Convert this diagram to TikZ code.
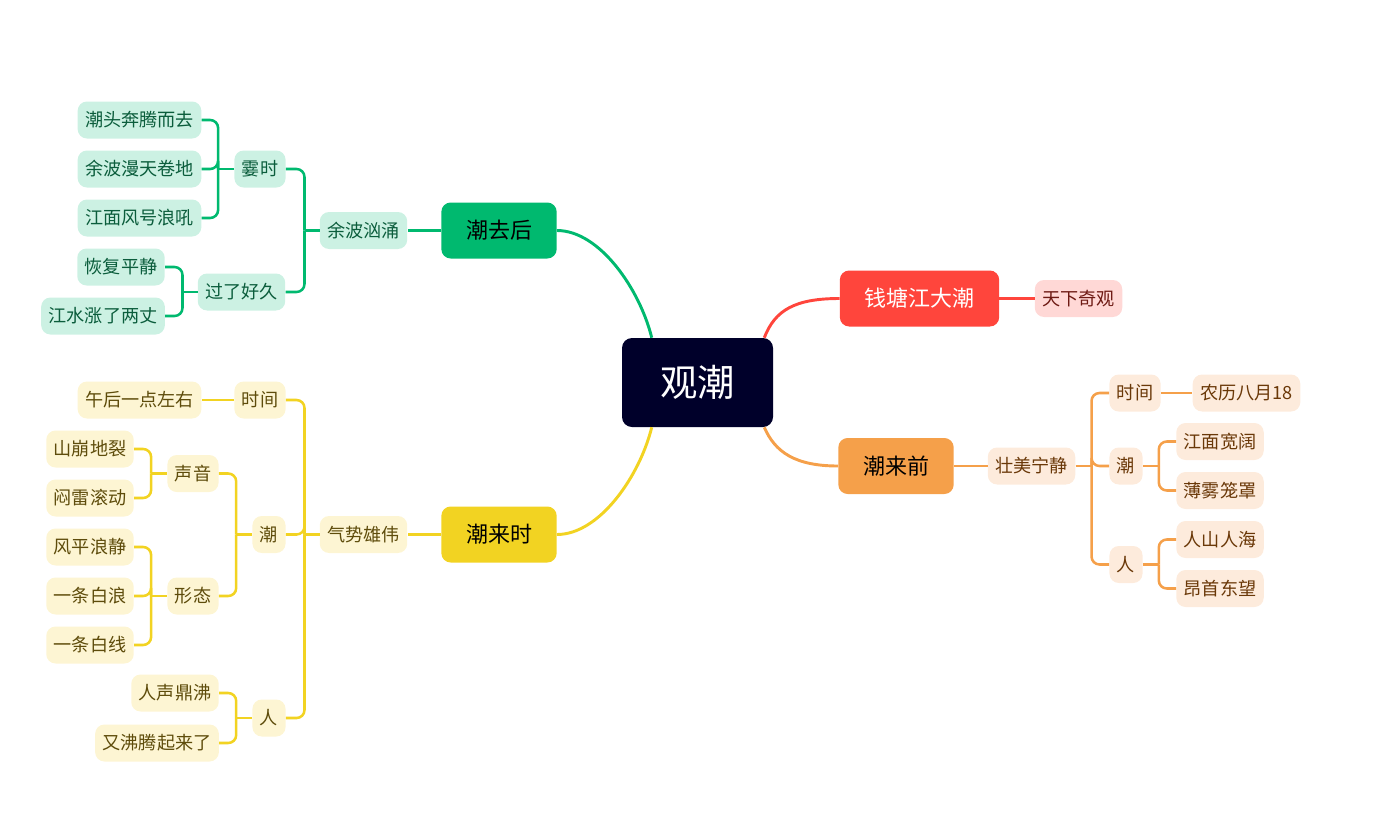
\documentclass[tikz,border=0pt]{standalone}
\usepackage{fontspec}
\setmainfont{Noto Sans CJK SC}
\usetikzlibrary{calc}
\definecolor{rootc}{HTML}{00002A}
\definecolor{gc}{HTML}{00B96F}
\definecolor{gl}{HTML}{CCF1E3}
\definecolor{gt}{HTML}{0B5D3C}
\definecolor{yc}{HTML}{F2D322}
\definecolor{yl}{HTML}{FDF5D3}
\definecolor{yt}{HTML}{5E4C0B}
\definecolor{rc}{HTML}{FF453C}
\definecolor{rl}{HTML}{FFD8D6}
\definecolor{rt}{HTML}{6E1A14}
\definecolor{oc}{HTML}{F5A04A}
\definecolor{ol}{HTML}{FDEBDC}
\definecolor{ot}{HTML}{6A3808}
\begin{document}
\begin{tikzpicture}[x=0.75pt,y=-0.75pt,
  sub/.style={rounded corners=7pt, minimum height=27.75pt, inner xsep=5.6pt, inner ysep=0pt, font=\fontsize{13.6}{14}\selectfont},
  gsub/.style={sub, fill=gl, text=gt},
  ysub/.style={sub, fill=yl, text=yt},
  rsub/.style={sub, fill=rl, text=rt},
  osub/.style={sub, fill=ol, text=ot},
  mainbox/.style={rounded corners=7pt, minimum height=42pt, inner xsep=18.5pt, inner ysep=0pt, font=\fontsize{16.5}{18}\selectfont},
  rootbox/.style={rounded corners=7.5pt, fill=rootc, text=white, minimum width=113.25pt, minimum height=66.75pt, font=\fontsize{28}{30}\selectfont},
  gline/.style={draw=gc, line width=1.9pt, rounded corners=6pt},
  yline/.style={draw=yc, line width=1.9pt, rounded corners=6pt},
  rline/.style={draw=rc, line width=1.9pt, rounded corners=6pt},
  oline/.style={draw=oc, line width=1.9pt, rounded corners=6pt},
  gmain/.style={draw=gc, line width=2.2pt},
  ymain/.style={draw=yc, line width=2.2pt},
  rmain/.style={draw=rc, line width=2.2pt},
  omain/.style={draw=oc, line width=2.2pt},
]
\path[use as bounding box] (0,0) rectangle (1383,835);

% root and main branches
\node[rootbox] (root) at (697.5,382.5) {观潮};
\node[mainbox, fill=gc, text=black] (qqh) at (499,230.5) {潮去后};
\node[mainbox, fill=yc, text=black] (qls) at (499,534.5) {潮来时};
\node[mainbox, fill=rc, text=white] (qtj) at (919.5,298.5) {钱塘江大潮};
\node[mainbox, fill=oc, text=black] (qlq) at (896,466) {潮来前};

\coordinate (rg) at ($(root.north west)+(30,0)$);
\coordinate (ry) at ($(root.south west)+(30,0)$);
\coordinate (rr) at ($(root.north east)+(-9,0)$);
\coordinate (ro) at ($(root.south east)+(-9,0)$);
\draw[gmain] (rg) .. controls (640,290) and (600,230.5) .. (qqh.east);
\draw[ymain] (ry) .. controls (640,475) and (600,534.5) .. (qls.east);
\draw[rmain] (rr) .. controls (775,310) and (795,298.5) .. (qtj.west);
\draw[omain] (ro) .. controls (775,452) and (795,466) .. (qlq.west);

% green subtree
\node[gsub] (yb) at (363.5,230.5) {余波汹涌};
\node[gsub] (sx) at (260,169) {霎时};
\node[gsub] (gj) at (241.5,292) {过了好久};
\node[gsub] (g1) at (139.5,120) {潮头奔腾而去};
\node[gsub] (g2) at (139.5,169) {余波漫天卷地};
\node[gsub] (g3) at (139.5,218) {江面风号浪吼};
\node[gsub] (g4) at (121,267) {恢复平静};
\node[gsub] (g5) at (103,316) {江水涨了两丈};

\draw[gline] (qqh.west) -- (yb.east);
\draw[gline] (yb.west) -- ++(-15,0) coordinate (jg1);
\draw[gline] (jg1) |- (sx.east);
\draw[gline] (jg1) |- (gj.east);
\draw[gline] (sx.west) -- ++(-16,0) coordinate (jg2);
\draw[gline] (jg2) |- (g1.east);
\draw[gline] (jg2) |- (g2.east);
\draw[gline] (jg2) |- (g3.east);
\draw[gline] (gj.west) -- ++(-15,0) coordinate (jg3);
\draw[gline] (jg3) |- (g4.east);
\draw[gline] (jg3) |- (g5.east);

% yellow subtree
\node[ysub] (qs) at (363.5,534.5) {气势雄伟};
\node[ysub] (sj) at (260,400) {时间};
\node[ysub] (ch) at (269,534.5) {潮};
\node[ysub] (rn) at (269,718) {人};
\node[ysub] (y0) at (139.5,400) {午后一点左右};
\node[ysub] (sy) at (193,473.5) {声音};
\node[ysub] (xt) at (193,596) {形态};
\node[ysub] (y1) at (90,449) {山崩地裂};
\node[ysub] (y2) at (90,498) {闷雷滚动};
\node[ysub] (y3) at (90,547) {风平浪静};
\node[ysub] (y4) at (90,596) {一条白浪};
\node[ysub] (y5) at (90,645) {一条白线};
\node[ysub] (y6) at (175,693) {人声鼎沸};
\node[ysub] (y7) at (157,743) {又沸腾起来了};

\draw[yline] (qls.west) -- (qs.east);
\draw[yline] (qs.west) -- ++(-15,0) coordinate (jy1);
\draw[yline] (jy1) |- (sj.east);
\draw[yline] (jy1) |- (ch.east);
\draw[yline] (jy1) |- (rn.east);
\draw[yline] (sj.west) -- (y0.east);
\draw[yline] (ch.west) -- ++(-16,0) coordinate (jy2);
\draw[yline] (jy2) |- (sy.east);
\draw[yline] (jy2) |- (xt.east);
\draw[yline] (sy.west) -- ++(-16,0) coordinate (jy3);
\draw[yline] (jy3) |- (y1.east);
\draw[yline] (jy3) |- (y2.east);
\draw[yline] (xt.west) -- ++(-16,0) coordinate (jy4);
\draw[yline] (jy4) |- (y3.east);
\draw[yline] (jy4) |- (y4.east);
\draw[yline] (jy4) |- (y5.east);
\draw[yline] (rn.west) -- ++(-16,0) coordinate (jy5);
\draw[yline] (jy5) |- (y6.east);
\draw[yline] (jy5) |- (y7.east);

% red subtree
\node[rsub] (tx) at (1078.5,298.5) {天下奇观};
\draw[rline] (qtj.east) -- (tx.west);

% orange subtree
\node[osub] (zm) at (1031.5,466) {壮美宁静};
\node[osub] (osj) at (1135,393) {时间};
\node[osub] (och) at (1126,466) {潮};
\node[osub] (orn) at (1126,564.5) {人};
\node[osub] (o0) at (1246.5,393) {农历八月18};
\node[osub] (o1) at (1220,441.5) {江面宽阔};
\node[osub] (o2) at (1220,490.5) {薄雾笼罩};
\node[osub] (o3) at (1220,539.5) {人山人海};
\node[osub] (o4) at (1220,588.5) {昂首东望};

\draw[oline] (qlq.east) -- (zm.west);
\draw[oline] (zm.east) -- ++(16,0) coordinate (jo1);
\draw[oline] (jo1) |- (osj.west);
\draw[oline] (jo1) |- (och.west);
\draw[oline] (jo1) |- (orn.west);
\draw[oline] (osj.east) -- (o0.west);
\draw[oline] (och.east) -- ++(16,0) coordinate (jo2);
\draw[oline] (jo2) |- (o1.west);
\draw[oline] (jo2) |- (o2.west);
\draw[oline] (orn.east) -- ++(16,0) coordinate (jo3);
\draw[oline] (jo3) |- (o3.west);
\draw[oline] (jo3) |- (o4.west);
\end{tikzpicture}
\end{document}
